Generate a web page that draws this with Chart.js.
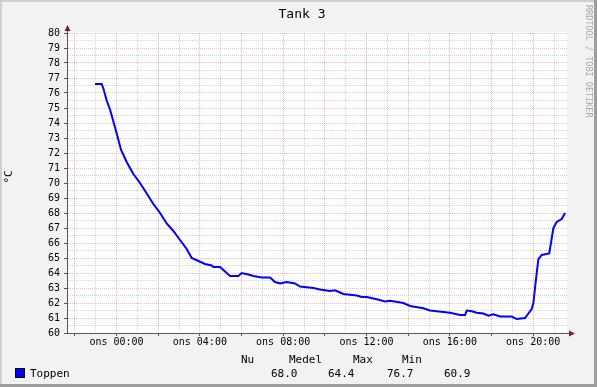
<!DOCTYPE html>
<html lang="sv">
<head>
<meta charset="UTF-8">
<title>Tank 3</title>
<script src="https://cdn.jsdelivr.net/npm/chart.js@4/dist/chart.umd.min.js"></script>
<style>
  html, body { margin: 0; padding: 0; background: #f2f2f2; }
  canvas { display: block; }
</style>
<script>
// time of day in hours (wednesday), negative = tuesday evening
const hours = [-1.03, -0.71, -0.63, -0.47, -0.31, -0.15, 0.01, 0.22, 0.49, 0.81,
  1.13, 1.45, 1.77, 2.09, 2.41, 2.73, 3.05, 3.37, 3.61, 3.93,
  4.25, 4.57, 4.65, 4.97, 5.13, 5.29, 5.45, 5.85, 6.01, 6.33,
  6.57, 6.97, 7.37, 7.61, 7.85, 8.17, 8.57, 8.81, 9.45, 9.77,
  10.25, 10.49, 10.89, 11.53, 11.77, 12.01, 12.49, 12.89, 13.13, 13.77,
  14.09, 14.73, 15.05, 15.69, 16.01, 16.49, 16.73, 16.81, 17.05, 17.29,
  17.61, 17.85, 18.09, 18.41, 18.97, 19.21, 19.61, 19.77, 19.93, 20.01,
  20.09, 20.17, 20.25, 20.41, 20.77, 20.89, 20.97, 21.13, 21.37, 21.53]
const toppen = [76.6, 76.6, 76.3, 75.5, 74.9, 74.1, 73.3, 72.2, 71.4, 70.6,
  70.0, 69.3, 68.6, 68.0, 67.3, 66.8, 66.2, 65.6, 65.0, 64.8,
  64.6, 64.5, 64.4, 64.4, 64.2, 64.0, 63.8, 63.8, 64.0, 63.9,
  63.8, 63.7, 63.7, 63.4, 63.3, 63.4, 63.3, 63.1, 63.0, 62.9,
  62.8, 62.85, 62.6, 62.5, 62.4, 62.4, 62.25, 62.1, 62.15, 62.0,
  61.8, 61.65, 61.5, 61.4, 61.35, 61.2, 61.2, 61.5, 61.45, 61.35,
  61.3, 61.15, 61.25, 61.1, 61.1, 60.93, 61.0, 61.3, 61.6, 62.0,
  63.0, 64.0, 64.9, 65.2, 65.3, 66.3, 67.0, 67.4, 67.6, 68.0]

const tickHours = [0, 4, 8, 12, 16, 20]
const tickLabels = ['ons 00:00', 'ons 04:00', 'ons 08:00', 'ons 12:00', 'ons 16:00', 'ons 20:00']

const statNames = ['Nu', 'Medel', 'Max', 'Min']
const statValues = ['68.0', '64.4', '76.7', '60.9']

window.onload = function() {
  const ctx = document.getElementById('chart').getContext('2d')
  const mono = '"DejaVu Sans Mono", monospace'
  const major = 'rgba(222,79,79,0.4)'
  const minor = 'rgba(143,143,143,0.4)'

  const rrdLook = {
    id: 'rrdLook',
    beforeDraw(chart) {
      const c = chart.ctx
      const a = chart.chartArea
      c.save()
      c.fillStyle = '#f2f2f2'
      c.fillRect(0, 0, 597, 387)
      c.fillStyle = '#cfcfcf'
      c.fillRect(0, 0, 597, 2)
      c.fillRect(0, 0, 2, 387)
      c.fillStyle = '#9e9e9e'
      c.fillRect(594, 0, 3, 387)
      c.fillRect(0, 384, 597, 3)
      c.fillStyle = '#ffffff'
      c.fillRect(a.left, a.top - 1, a.right - a.left, a.bottom - a.top + 1)
      c.restore()
    },
    afterDraw(chart) {
      const c = chart.ctx
      const a = chart.chartArea
      c.save()
      // axis extensions and arrows
      c.strokeStyle = '#555'
      c.lineWidth = 1
      c.beginPath()
      c.moveTo(a.left + 0.5, a.top)
      c.lineTo(a.left + 0.5, a.top - 3)
      c.moveTo(a.right, a.bottom + 0.5)
      c.lineTo(a.right + 3, a.bottom + 0.5)
      c.stroke()
      c.fillStyle = '#801f1f'
      c.beginPath()
      c.moveTo(a.left + 0.5, a.top - 8)
      c.lineTo(a.left - 2.5, a.top - 2)
      c.lineTo(a.left + 3.5, a.top - 2)
      c.closePath()
      c.fill()
      c.beginPath()
      c.moveTo(a.right + 8, a.bottom + 0.5)
      c.lineTo(a.right + 2, a.bottom - 2.5)
      c.lineTo(a.right + 2, a.bottom + 3.5)
      c.closePath()
      c.fill()

      // title
      c.fillStyle = '#000'
      c.font = '13px ' + mono
      c.textAlign = 'center'
      c.textBaseline = 'alphabetic'
      c.fillText('Tank 3', 302, 18)

      // vertical axis label
      c.save()
      c.translate(12, 177)
      c.rotate(-Math.PI / 2)
      c.font = '11px ' + mono
      c.fillText('°C', 0, 0)
      c.restore()

      // watermark
      c.save()
      c.translate(586, 5)
      c.rotate(Math.PI / 2)
      c.fillStyle = '#aaaaaa'
      c.font = '8.5px ' + mono
      c.textAlign = 'left'
      c.fillText('RRDTOOL / TOBI OETIKER', 0, 0)
      c.restore()

      // legend
      c.fillStyle = '#0000ff'
      c.fillRect(15.5, 368.5, 9, 9)
      c.strokeStyle = '#000'
      c.strokeRect(15.5, 368.5, 9, 9)
      c.fillStyle = '#000'
      c.font = '11px ' + mono
      c.textAlign = 'left'
      c.fillText('Toppen', 30, 377)
      const nameX = [241, 289, 353, 402]
      const valueX = [271, 328, 387, 444]
      statNames.forEach((n, i) => c.fillText(n, nameX[i], 363))
      statValues.forEach((v, i) => c.fillText(v, valueX[i], 377))
      c.restore()
    }
  }

  const xTicks = []
  for (let h = -2; h <= 21; h++) xTicks.push(h)
  const yTicks = []
  for (let v = 60; v <= 80; v += 0.5) yTicks.push(v)

  new Chart(ctx, {
    type: 'line',
    data: {
      datasets: [{
        label: 'Toppen',
        data: hours.map((h, i) => ({ x: h, y: toppen[i] })),
        borderColor: '#0000ff',
        borderWidth: 2,
        pointRadius: 0,
        tension: 0,
        fill: false
      }]
    },
    options: {
      responsive: false,
      animation: false,
      devicePixelRatio: 1,
      layout: { padding: { top: 33, right: 30, left: 0, bottom: 0 } },
      plugins: {
        legend: { display: false },
        title: { display: false },
        tooltip: { enabled: false }
      },
      scales: {
        x: {
          type: 'linear',
          min: -2.376,
          max: 21.624,
          afterFit(s) { s.height = 54 },
          afterBuildTicks(s) { s.ticks = xTicks.map(v => ({ value: v })) },
          border: { color: '#555', dash: [1, 1] },
          grid: {
            color: c => (c.tick && c.tick.value % 2 === 0) ? major : minor,
            tickLength: 3,
            tickColor: c => (c.tick && c.tick.value % 2 === 0) ? '#555' : 'transparent',
            tickBorderDash: []
          },
          ticks: {
            autoSkip: false,
            maxRotation: 0,
            padding: 0,
            color: '#000',
            font: { family: mono, size: 10 },
            callback: v => {
              const i = tickHours.indexOf(v)
              return i >= 0 ? tickLabels[i] : ''
            }
          }
        },
        y: {
          min: 60,
          max: 80,
          afterFit(s) { s.width = 67 },
          afterBuildTicks(s) { s.ticks = yTicks.map(v => ({ value: v })) },
          border: { color: '#555', dash: [1, 1] },
          grid: {
            color: c => (c.tick && c.tick.value % 1 === 0) ? major : minor,
            tickLength: 3,
            tickColor: c => (c.tick && c.tick.value % 1 === 0) ? '#555' : 'transparent',
            tickBorderDash: []
          },
          ticks: {
            autoSkip: false,
            padding: 4,
            color: '#000',
            font: { family: mono, size: 10 },
            callback: v => v % 1 === 0 ? String(v) : ''
          }
        }
      }
    },
    plugins: [rrdLook]
  })
}
</script>
</head>
<body>
<canvas id="chart" width="597" height="387"></canvas>
</body>
</html>
